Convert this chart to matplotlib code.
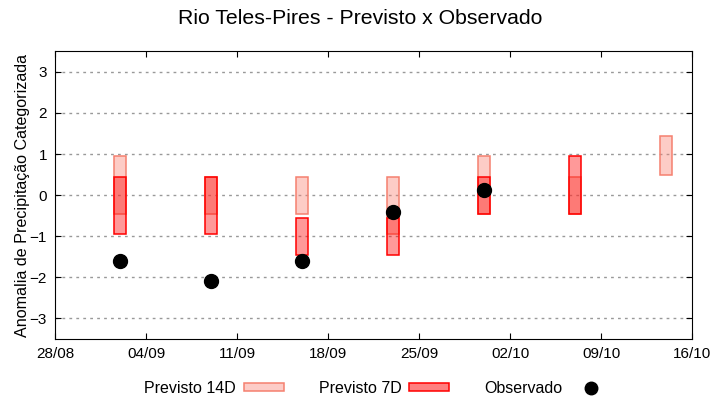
import datetime as dt
import matplotlib
matplotlib.use('Agg')
import matplotlib.pyplot as plt
import matplotlib.dates as mdates
from matplotlib.patches import Rectangle
from matplotlib.lines import Line2D

plt.rcParams['font.family'] = ['Liberation Sans', 'DejaVu Sans']

# forecast dates (one bar group per week)
dates = [dt.datetime(2024, 9, 2), dt.datetime(2024, 9, 9), dt.datetime(2024, 9, 16),
         dt.datetime(2024, 9, 23), dt.datetime(2024, 9, 30), dt.datetime(2024, 10, 7),
         dt.datetime(2024, 10, 14)]

# Previsto 14D ranges (low, high)
p14_low = [-0.45, -0.45, -0.45, -0.95, -0.45, -0.45, 0.5]
p14_high = [0.95, 0.45, 0.45, 0.45, 0.95, 0.45, 1.45]

# Previsto 7D ranges (last week has no 7D forecast)
p7_dates = dates[:6]
p7_low = [-0.95, -0.95, -1.45, -1.45, -0.45, -0.45]
p7_high = [0.45, 0.45, -0.55, -0.55, 0.45, 0.95]

# Observado
obs_dates = dates[:5]
obs = [-1.6, -2.1, -1.6, -0.4, 0.12]

tick_dates = [dt.datetime(2024, 8, 28) + dt.timedelta(days=7 * i) for i in range(8)]

fig = plt.figure(figsize=(7.2, 4.0), dpi=100)
ax = fig.add_axes([55.3 / 720, 61 / 400, (692.3 - 55.3) / 720, (339 - 51.3) / 400])

h14 = [h - l for h, l in zip(p14_high, p14_low)]
h7 = [h - l for h, l in zip(p7_high, p7_low)]
ax.bar(dates, h14, bottom=p14_low, width=0.9, color='salmon', alpha=0.4,
       edgecolor='none', zorder=2)
ax.bar(dates, h14, bottom=p14_low, width=0.9, facecolor='none',
       edgecolor='#f5806f', linewidth=1.1, zorder=2.1)
ax.bar(p7_dates, h7, bottom=p7_low, width=0.9, color='red', alpha=0.4,
       edgecolor='none', zorder=3)
ax.bar(p7_dates, h7, bottom=p7_low, width=0.9, facecolor='none',
       edgecolor='red', linewidth=1.1, zorder=3.1)
ax.plot(obs_dates, obs, 'o', color='black', markersize=10, zorder=4)

ax.set_xlim(tick_dates[0], tick_dates[-1])
ax.set_ylim(-3.5, 3.5)
ax.set_xticks(tick_dates)
ax.xaxis.set_major_formatter(mdates.DateFormatter('%d/%m'))
ax.set_yticks(range(-3, 4))
ax.tick_params(direction='in', length=4, top=True, right=True, labelsize=11, pad=6)
ax.yaxis.grid(True, linestyle=(0, (2, 3)), color='#999999', linewidth=1)
ax.set_axisbelow(True)
ax.set_ylabel('Anomalia de Precipitação Categorizada', fontsize=11.6, labelpad=0)
fig.text(0.5, 1 - 19 / 400, 'Rio Teles-Pires - Previsto x Observado', fontsize=15.3,
         ha='center', va='center')

handles = [
    Rectangle((0, 0), 1, 1, facecolor='#fdccc7', edgecolor='#f5806f', linewidth=1.1),
    Rectangle((0, 0), 1, 1, facecolor='#ff8080', edgecolor='red', linewidth=1.1),
    Line2D([], [], marker='o', linestyle='none', color='black', markersize=9),
]
fig.legend(handles, ['Previsto 14D', 'Previsto 7D', 'Observado'], loc='center',
           bbox_to_anchor=(0.524, 11.5 / 400), ncol=3, frameon=False, markerfirst=False,
           fontsize=11.5, handlelength=2.5, handleheight=0.4, columnspacing=2.2,
           handletextpad=0.5, borderaxespad=0, borderpad=0)

fig.savefig('out.png', dpi=100)
